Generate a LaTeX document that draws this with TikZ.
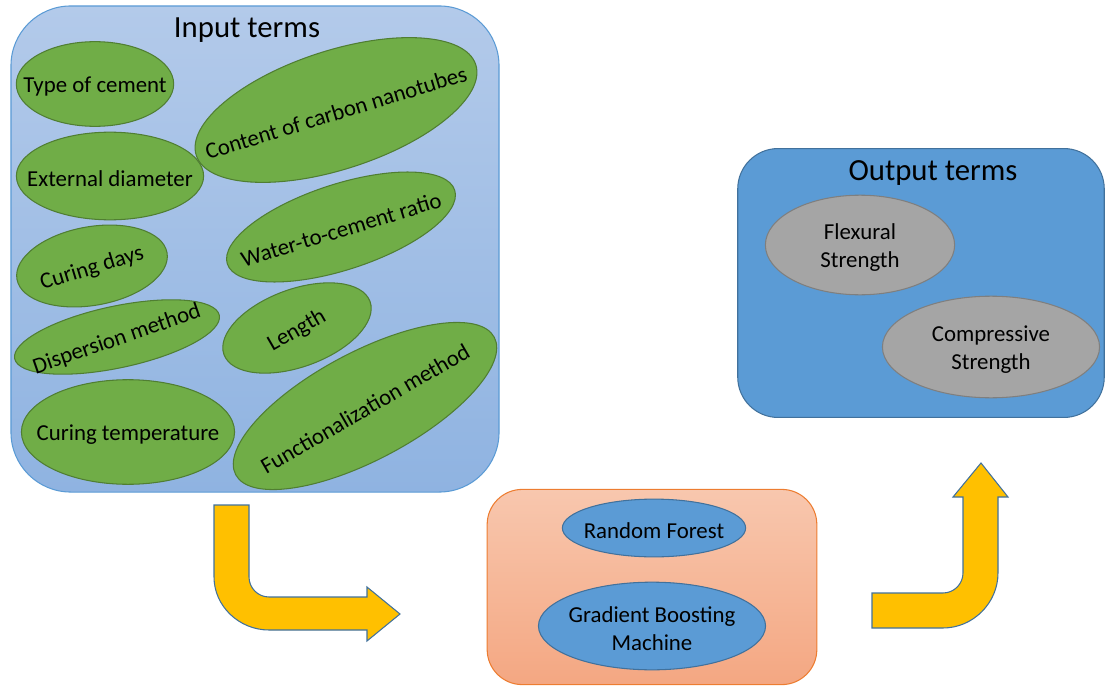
\documentclass[tikz,border=0pt]{standalone}
\usepackage{fontspec}
\setmainfont{Carlito}
\usepackage{tikz}
\usetikzlibrary{shapes.geometric}
\definecolor{intop}{HTML}{B3CAEA}
\definecolor{inbot}{HTML}{8FB3E1}
\definecolor{inedge}{HTML}{5B9BD5}
\definecolor{termgreen}{HTML}{70AD47}
\definecolor{termedge}{HTML}{507E32}
\definecolor{mltop}{HTML}{F8C7AE}
\definecolor{mlbot}{HTML}{F4A782}
\definecolor{mledge}{HTML}{ED7D31}
\definecolor{outfill}{HTML}{5B9BD5}
\definecolor{outedge}{HTML}{41719C}
\definecolor{outgray}{HTML}{A5A5A5}
\definecolor{grayedge}{HTML}{7F7F7F}
\definecolor{arrowfill}{HTML}{FFC000}
\tikzset{
  dims/.style 2 args={minimum width=#1*0.5669pt, minimum height=#2*0.5669pt},
  box/.style={rectangle, line width=0.6pt, inner sep=0},
  term/.style={ellipse, draw=termedge, fill=termgreen, line width=0.6pt, inner sep=0},
  model/.style={ellipse, draw=outedge, fill=outfill, line width=0.6pt, inner sep=0},
  result/.style={ellipse, draw=grayedge, fill=outgray, line width=0.6pt, inner sep=0},
  lbl/.style={font=\fontsize{13}{16}\selectfont, align=center, inner sep=0, yshift=-1.5pt},
  heading/.style={font=\fontsize{17.5}{20}\selectfont, inner sep=0, yshift=-1.7pt},
  bent/.style={draw=outedge, fill=arrowfill, line width=0.6pt, line join=miter}
}
\begin{document}
\begin{tikzpicture}[x=0.02cm, y=-0.02cm]
\useasboundingbox (0,0) rectangle (1106,686);

% input terms
\node[box, dims={490}{488}, rounded corners=34pt, draw=inedge, top color=intop, bottom color=inbot] (input) at (255,249) {};
\node[heading] (intitle) at (247,27) {Input terms};
\foreach \x/\y/\w/\h/\a/\b/\n/\t in {
  95/84/158/85/0/0/cem/Type of cement,
  110/176/188/88/0/0/dia/External diameter,
  92/266/153/79/10/17/days/Curing days,
  117/337/210/62/12/19/disp/Dispersion method,
  128/432/214/105/0/0/temp/Curing temperature,
  336/110/295/119/18/17/cnt/Content of carbon nanotubes,
  341/227/240/86/18/17/wcr/Water-to-cement ratio,
  297/328/156/78/20/30/len/Length,
  365/406/294/108/28/30/fun/Functionalization method}{
  \node[term, dims={\w}{\h}, rotate=\a] (\n) at (\x,\y) {};
  \node[lbl, rotate=\b] at (\n) {\t};
}

% models
\node[box, dims={331}{196}, rounded corners=20pt, draw=mledge, top color=mltop, bottom color=mlbot] (ml) at (652,587) {};
\node[model, dims={184}{58}] (rf) at (654,528) {};
\node[lbl] at (rf) {Random Forest};
\node[model, dims={228}{88}] (gbm) at (652,626) {};
\node[lbl] at (gbm) {Gradient Boosting\\Machine};

% output terms
\node[box, dims={368}{270}, rounded corners=23pt, draw=outedge, fill=outfill] (output) at (921,283) {};
\node[heading] (outtitle) at (933,170) {Output terms};
\node[result, dims={190}{100}] (flex) at (860,245) {};
\node[lbl] at (flex) {Flexural\\Strength};
\node[result, dims={218}{102}] (comp) at (991,347) {};
\node[lbl] at (comp) {Compressive\\Strength};

% bent arrows
\draw[bent] (214,505) -- (214,577) .. controls (214,606) and (239,630) .. (269,630)
  -- (367,630) -- (367,641) -- (400,614) -- (367,587) -- (367,597) -- (269,597)
  .. controls (258,597) and (249,588) .. (249,577) -- (249,505) -- cycle;
\draw[bent] (872,593) -- (943,593) .. controls (954,593) and (963,584) .. (963,573)
  -- (963,497) -- (953,497) -- (981,463) -- (1008,497) -- (998,497) -- (998,573)
  .. controls (998,603) and (973,628) .. (943,628) -- (872,628) -- cycle;
\end{tikzpicture}
\end{document}
